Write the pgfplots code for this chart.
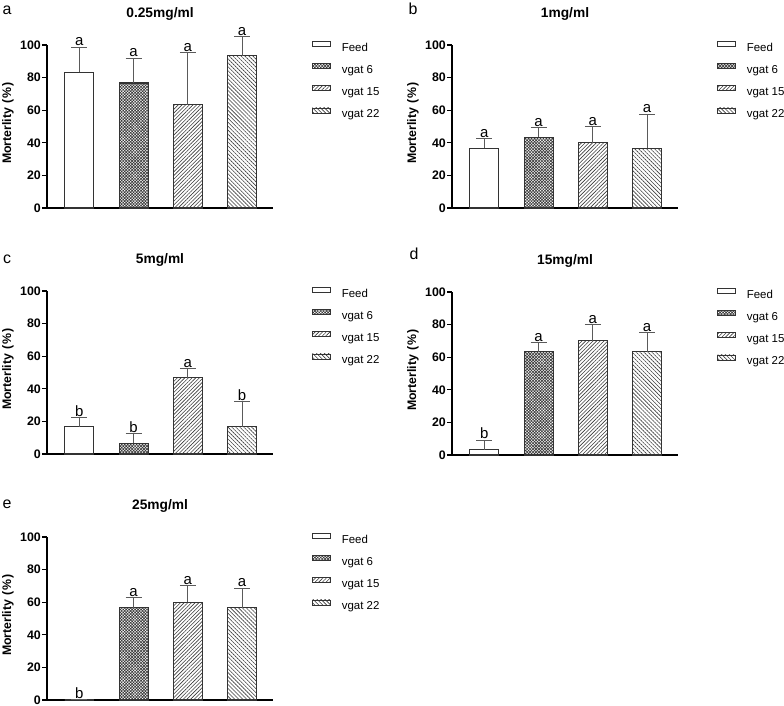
\documentclass[border=0pt]{standalone}
\usepackage{fontspec}
\setmainfont{Liberation Sans}
\usepackage{pgfplots}
\pgfplotsset{compat=1.18}
\usetikzlibrary{patterns.meta}
\definecolor{bardraw}{HTML}{333333}
\definecolor{errgray}{HTML}{5A5A5A}
\definecolor{patcol}{HTML}{3A3A3A}

\newcommand{\ylab}{Morterlity\kern4bp(\kern1bp\%\kern1bp)}

\pgfplotsset{
  panel/.style={
    scale only axis, width=226bp, height=163bp, anchor=south west,
    xmin=-0.596, xmax=3.57, ymin=0, ymax=100,
    ytick={0,20,40,60,80,100}, xtick=\empty,
    axis x line*=bottom, axis y line*=left,
    axis line style={line width=1.3bp, black},
    tick style={line width=1.3bp, black},
    major tick length=5bp, tick align=outside,
    clip=false,
    /pgf/number format/assume math mode=true,
    yticklabel style={font=\bfseries\fontsize{12.4}{14}\selectfont, inner sep=0pt, xshift=-1bp},
    ylabel={\ylab},
    ylabel style={at={(axis description cs:-0.1726,0.52)}, anchor=center,
      font=\bfseries\fontsize{12.4}{14}\selectfont},
    title style={at={(axis description cs:0.5,1)}, anchor=south, inner sep=0pt, yshift=18.5bp,
      font=\bfseries\fontsize{13.8}{16}\selectfont},
    legend style={at={(axis description cs:1,1)}, anchor=north west,
      xshift=39bp, yshift=4bp, draw=none, fill=none, inner sep=0pt, outer sep=0pt,
      font=\fontsize{11.5}{14}\selectfont, row sep=9bp, column sep=11bp,
      nodes={inner sep=0pt, text height=9bp, text depth=3bp}},
    legend cell align=left,
  },
  bars/.style={ybar, bar shift=0pt, bar width=29bp, draw=bardraw, line width=1.1bp,
    legend image code/.code={\draw[##1, line width=0.8bp] (0bp,1.8bp) rectangle (18bp,6.8bp);},
    error bars/y dir=plus, error bars/y explicit,
    error bars/error bar style={line width=1bp, draw=errgray},
    error bars/error mark options={rotate=90, mark size=8bp, line width=1bp, draw=errgray}},
  feed/.style={bars, fill=white},
  gsix/.style={bars, pattern={Hatch[angle=45,distance=2.1bp,line width=0.65bp]}, pattern color=patcol},
  gfifteen/.style={bars, pattern={Lines[angle=45,distance=2.6bp,line width=0.6bp]}, pattern color=patcol},
  gtwentytwo/.style={bars, pattern={Lines[angle=-45,distance=2.8bp,line width=0.6bp]}, pattern color=patcol},
  letters/.style={draw=none, mark=none, forget plot, nodes near coords, point meta=explicit symbolic,
    nodes near coords style={anchor=base, inner sep=0pt, yshift=1.3bp, font=\fontsize{15}{17}\selectfont, text=black}},
}

\begin{document}
\begin{tikzpicture}
\useasboundingbox (0,0) rectangle (784bp,706bp);

% Panel a
\begin{axis}[panel, at={(47bp,498bp)}, title={0.25mg/ml}]
\addplot[feed] coordinates {(0,83.3) +- (0,15.4)};
\addplot[gsix] coordinates {(1,76.7) +- (0,15.3)};
\addplot[gfifteen] coordinates {(2,63.3) +- (0,32.2)};
\addplot[gtwentytwo] coordinates {(3,93.3) +- (0,11.8)};
\addplot[letters] coordinates {(0,98.7)[a] (1,92.0)[a] (2,95.5)[a] (3,105.1)[a]};
\legend{Feed, vgat 6, vgat 15, vgat 22}
\end{axis}

% Panel b
\begin{axis}[panel, at={(452bp,498bp)}, title={1mg/ml}]
\addplot[feed] coordinates {(0,36.7) +- (0,6.0)};
\addplot[gsix] coordinates {(1,43.3) +- (0,6.0)};
\addplot[gfifteen] coordinates {(2,40.0) +- (0,10.0)};
\addplot[gtwentytwo] coordinates {(3,36.7) +- (0,20.8)};
\addplot[letters] coordinates {(0,42.7)[a] (1,49.3)[a] (2,50.0)[a] (3,57.5)[a]};
\legend{Feed, vgat 6, vgat 15, vgat 22}
\end{axis}

% Panel c
\begin{axis}[panel, at={(47bp,252bp)}, title={5mg/ml}]
\addplot[feed] coordinates {(0,16.7) +- (0,5.8)};
\addplot[gsix] coordinates {(1,6.7) +- (0,5.8)};
\addplot[gfifteen] coordinates {(2,46.7) +- (0,5.8)};
\addplot[gtwentytwo] coordinates {(3,16.7) +- (0,15.3)};
\addplot[letters] coordinates {(0,22.5)[b] (1,12.5)[b] (2,52.5)[a] (3,32.0)[b]};
\legend{Feed, vgat 6, vgat 15, vgat 22}
\end{axis}

% Panel d
\begin{axis}[panel, at={(452bp,251bp)}, title={15mg/ml}]
\addplot[feed] coordinates {(0,3.3) +- (0,5.8)};
\addplot[gsix] coordinates {(1,63.3) +- (0,5.8)};
\addplot[gfifteen] coordinates {(2,70.0) +- (0,10.0)};
\addplot[gtwentytwo] coordinates {(3,63.3) +- (0,11.8)};
\addplot[letters] coordinates {(0,9.1)[b] (1,69.1)[a] (2,80.0)[a] (3,75.1)[a]};
\legend{Feed, vgat 6, vgat 15, vgat 22}
\end{axis}

% Panel e
\begin{axis}[panel, at={(47bp,6bp)}, title={25mg/ml}]
\addplot[feed] coordinates {(0,0) +- (0,0)};
\addplot[gsix] coordinates {(1,56.7) +- (0,6.0)};
\addplot[gfifteen] coordinates {(2,60.0) +- (0,10.3)};
\addplot[gtwentytwo] coordinates {(3,56.7) +- (0,12.0)};
\addplot[letters] coordinates {(0,0)[b] (1,62.7)[a] (2,70.3)[a] (3,68.7)[a]};
\legend{Feed, vgat 6, vgat 15, vgat 22}
\end{axis}

\node[font=\fontsize{16}{18}\selectfont] at (7bp,696bp) {a};
\node[font=\fontsize{16}{18}\selectfont] at (413bp,697bp) {b};
\node[font=\fontsize{16}{18}\selectfont] at (7bp,447bp) {c};
\node[font=\fontsize{16}{18}\selectfont] at (414bp,452bp) {d};
\node[font=\fontsize{16}{18}\selectfont] at (7bp,202bp) {e};
\end{tikzpicture}
\end{document}
